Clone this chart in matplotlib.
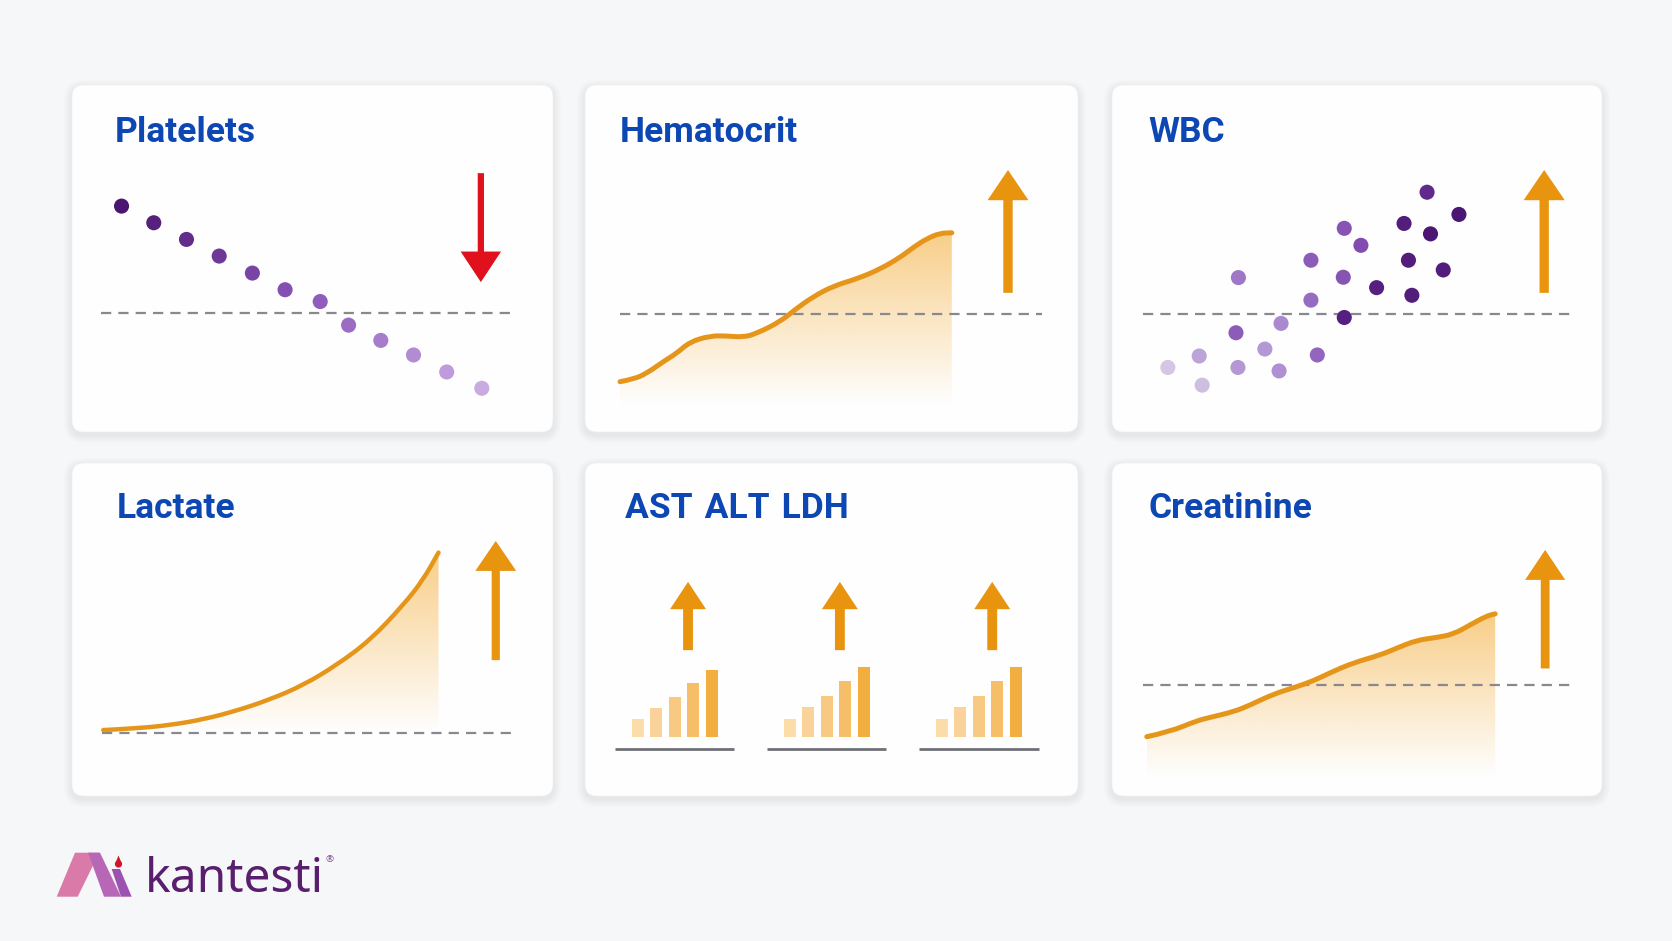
import numpy as np
import matplotlib.pyplot as plt
from matplotlib.patches import FancyBboxPatch, FancyArrow, Polygon, Circle, PathPatch
from matplotlib.path import Path
from matplotlib.colors import LinearSegmentedColormap, to_rgb

W, H = 1672, 941

# ---- data (in card units 0-100) ----
plt_x = [10.3, 17.0, 23.8, 30.6, 37.5, 44.3, 51.6, 57.5, 64.2, 71.0, 77.9, 85.2]
plt_y = [65.1, 60.3, 55.5, 50.7, 45.8, 41.0, 37.6, 30.8, 26.4, 22.2, 17.3, 12.6]
plt_thr = 34.3

hct_x = [7.1, 9.8, 12.5, 15.9, 18.6, 21.3, 25.4, 28.7, 32.1, 34.8, 39.6, 42.9, 46.3,
         50.4, 55.1, 59.8, 63.9, 66.6, 69.3, 72.0, 74.4]
hct_y = [14.5, 15.2, 16.9, 20.3, 22.7, 26.0, 27.7, 27.7, 27.3, 28.4, 31.8, 35.6, 39.0,
         42.1, 44.1, 46.9, 50.3, 53.2, 55.7, 57.3, 57.4]
hct_thr = 34.1

wbc_x = [11.4, 18.4, 17.8, 25.7, 25.3, 31.2, 34.5, 34.1, 25.8, 40.6, 41.9, 40.6,
         47.2, 47.4, 50.8, 47.4, 54.0, 61.2, 60.5, 59.6, 65.0, 67.6, 64.3, 70.8]
wbc_y = [18.6, 13.5, 21.9, 18.6, 28.6, 23.9, 31.3, 17.6, 44.5, 38.0, 22.2, 49.5,
         44.6, 58.7, 53.8, 33.0, 41.6, 39.4, 49.5, 60.1, 57.1, 46.7, 69.1, 62.7]
wbc_tone = [0.05, 0.08, 0.18, 0.22, 0.5, 0.22, 0.28, 0.25, 0.35, 0.42, 0.45, 0.5,
            0.55, 0.55, 0.6, 0.92, 0.92, 0.95, 0.95, 0.95, 1.0, 0.95, 0.85, 1.0]
wbc_thr = 34.1

lac_x = [6.5, 13.4, 20.4, 27.3, 34.2, 41.2, 48.1, 55.0, 62.0, 68.9, 73.0, 76.2]
lac_y = [19.8, 20.3, 21.3, 23.0, 25.6, 29.0, 33.3, 39.3, 46.8, 57.4, 64.9, 73.1]
lac_thr = 18.8

enzyme_labels = ["AST", "ALT", "LDH"]
ast_h = [5.2, 8.7, 11.8, 16.0, 20.0]
alt_h = [5.2, 9.0, 12.2, 16.8, 20.8]
ldh_h = [5.2, 9.0, 12.2, 16.7, 20.8]

cre_x = [7.1, 11.8, 17.3, 20.0, 24.8, 28.2, 32.9, 37.7, 41.1, 44.5, 49.2, 54.7,
         58.1, 62.2, 66.3, 69.7, 73.1, 76.5, 78.2]
cre_y = [17.8, 19.3, 22.6, 23.6, 25.3, 27.3, 30.6, 32.8, 34.6, 37.0, 40.0, 42.3,
         44.4, 46.8, 47.6, 48.6, 51.4, 54.1, 54.7]
cre_thr = 33.3

titles = ["Platelets", "Hematocrit", "WBC", "Lactate", "\u2004".join(enzyme_labels), "Creatinine"]

# ---- style ----
BG = '#F6F7F9'
BLUE = '#0D47B3'
ORANGE = '#E5961A'
ARROW_OR = '#E8940F'
RED = '#E0101C'
GRAY = '#88888E'
TITLE_FONT = dict(family=['Roboto', 'DejaVu Sans'], weight='bold', size=25.5, color=BLUE)

cards = [(72, 85, 553, 432), (585, 85, 1078, 432), (1112, 85, 1602, 432),
         (72, 463, 553, 796), (585, 463, 1078, 796), (1112, 463, 1602, 796)]
title_pos = [(115, 142), (620, 142), (1148, 142), (117, 518), (625, 518), (1149, 518)]

fig = plt.figure(figsize=(W / 100, H / 100), dpi=100)
fig.patch.set_facecolor(BG)

bg = fig.add_axes([0, 0, 1, 1])
bg.set_xlim(0, W)
bg.set_ylim(H, 0)
bg.axis('off')
for (l, t, r, b) in cards:
    for k in range(8, 0, -1):
        bg.add_patch(FancyBboxPatch((l - k, t - k + 3), r - l + 2 * k, b - t + 2 * k,
                                    boxstyle=f"round,pad=0,rounding_size={12 + k}",
                                    fc='#1A2540', ec='none', alpha=0.006))
    bg.add_patch(FancyBboxPatch((l, t), r - l, b - t, boxstyle="round,pad=0,rounding_size=12",
                                fc='#FEFEFE', ec='#F0F1F4', lw=0.5))

for (tx, ty), s in zip(title_pos, titles):
    fig.text(tx / W, 1 - ty / H, s, va='baseline', ha='left', **TITLE_FONT)


def card_axes(i):
    l, t, r, b = cards[i]
    ax = fig.add_axes([l / W, 1 - b / H, (r - l) / W, (b - t) / H])
    ax.set_xlim(0, 100)
    ax.set_ylim(0, 100)
    ax.axis('off')
    ax.patch.set_alpha(0)
    return ax


def threshold(ax, y, x0, x1):
    ax.axhline(y, xmin=x0 / 100, xmax=x1 / 100, color=GRAY, lw=1.6,
               ls=(0, (4.6, 3.2)), zorder=2)


def arrow(ax, x, y0, y1, shaft, head_w, head_l, color):
    ax.add_patch(FancyArrow(x, y0, 0, y1 - y0, width=shaft, head_width=head_w,
                            head_length=head_l, length_includes_head=True,
                            fc=color, ec='none', zorder=4))


def curve_path(x, y, bottom=None):
    # quadratic bezier through midpoints, using the read points as controls
    verts = [(x[0], y[0])]
    codes = [Path.MOVETO]
    for i in range(1, len(x) - 1):
        verts += [(x[i], y[i]), ((x[i] + x[i + 1]) / 2, (y[i] + y[i + 1]) / 2)]
        codes += [Path.CURVE3, Path.CURVE3]
    verts.append((x[-1], y[-1]))
    codes.append(Path.LINETO)
    if bottom is not None:
        verts += [(x[-1], bottom), (x[0], bottom), (x[0], y[0])]
        codes += [Path.LINETO, Path.LINETO, Path.CLOSEPOLY]
    return Path(verts, codes)


def area(ax, x, y, bottom, lw=3.6):
    x = np.asarray(x)
    y = np.asarray(y)
    clip = PathPatch(curve_path(x, y, bottom), fc='none', ec='none')
    ax.add_patch(clip)
    grad = np.zeros((256, 1, 4))
    grad[..., :3] = to_rgb('#F5AE3A')
    grad[..., 3] = np.linspace(0.6, 0.0, 256)[:, None]
    im = ax.imshow(grad, extent=(x.min(), x.max(), bottom, y.max()), aspect='auto',
                   origin='upper', zorder=1, interpolation='bilinear')
    im.set_clip_path(clip)
    ax.add_patch(PathPatch(curve_path(x, y), fill=False, ec=ORANGE, lw=lw,
                           capstyle='round', joinstyle='round', zorder=3))
    ax.set_xlim(0, 100)
    ax.set_ylim(0, 100)


purples = LinearSegmentedColormap.from_list('p', ['#DCD3E8', '#A07ACB', '#7A3FA8', '#4C1774'])
platelet_cmap = LinearSegmentedColormap.from_list('pl', ['#4A1570', '#8A55B8', '#C9ABE2'])

# Platelets
ax = card_axes(0)
threshold(ax, plt_thr, 6.0, 91.9)
ax.scatter(plt_x, plt_y, s=118, c=np.linspace(0, 1, len(plt_x)), cmap=platelet_cmap,
           edgecolors='none', zorder=3)
arrow(ax, 85.0, 74.6, 43.2, 1.3, 8.4, 8.8, RED)

# Hematocrit
ax = card_axes(1)
threshold(ax, hct_thr, 7.1, 92.6)
area(ax, hct_x, hct_y, 7.5)
arrow(ax, 85.8, 40.1, 75.5, 1.9, 8.3, 8.7, ARROW_OR)

# WBC
ax = card_axes(2)
threshold(ax, wbc_thr, 6.4, 93.5)
ax.scatter(wbc_x, wbc_y, s=118, c=wbc_tone, cmap=purples, vmin=0, vmax=1,
           edgecolors='none', zorder=3)
arrow(ax, 88.2, 40.1, 75.5, 1.9, 8.4, 8.7, ARROW_OR)

# Lactate
ax = card_axes(3)
threshold(ax, lac_thr, 6.2, 92.5)
area(ax, lac_x, lac_y, 19.0, lw=3.2)
arrow(ax, 88.1, 40.8, 76.6, 1.7, 8.5, 9.0, ARROW_OR)

# AST / ALT / LDH
ax = card_axes(4)
bar_cols = ['#FCDDAA', '#FAD39A', '#F8C981', '#F6BE68', '#F3AE40']
centers = [18.2, 49.0, 79.9]
for c, hts in zip(centers, [ast_h, alt_h, ldh_h]):
    xs = c + 3.75 * (np.arange(len(hts)) - 2)
    ax.bar(xs, hts, width=2.45, bottom=17.8, color=bar_cols, zorder=3)
    ax.plot([c - 12.1, c + 12.1], [14.1, 14.1], color='#707078', lw=2.0,
            solid_capstyle='butt', zorder=3)
    arrow(ax, c + 2.7, 43.8, 64.3, 2.0, 7.3, 8.2, ARROW_OR)

# Creatinine
ax = card_axes(5)
threshold(ax, cre_thr, 6.4, 93.8)
area(ax, cre_x, cre_y, 5.8)
arrow(ax, 88.4, 38.3, 73.9, 1.8, 8.2, 9.0, ARROW_OR)

# ---- logo ----
bg.add_patch(Polygon([(56.7, 896.7), (77.7, 896.7), (99.3, 852.7), (75.0, 852.7)],
                     closed=True, fc='#D97AA8', ec='none'))
bg.add_patch(Polygon([(88.0, 852.7), (100.0, 852.7), (121.0, 896.7), (104.0, 896.7)],
                     closed=True, fc='#B866B6', ec='none'))
bg.add_patch(Polygon([(111.7, 869.0), (120.0, 869.0), (131.7, 896.7), (121.0, 896.7)],
                     closed=True, fc='#9C52B0', ec='none'))
bg.add_patch(Circle((118.5, 864.0), 3.6, fc='#D0162C', ec='none'))
bg.add_patch(Polygon([(118.5, 855.5), (115.6, 862.5), (121.4, 862.5)],
                     closed=True, fc='#D0162C', ec='none'))
fig.text(145 / W, 1 - 891.7 / H, "kantesti", family=['Noto Sans', 'DejaVu Sans'],
         size=34.5, color='#5A1E6E', va='baseline', ha='left')
fig.text(325 / W, 1 - 862 / H, "®", family=['Noto Sans', 'DejaVu Sans'],
         size=7, color='#7A4A8A', va='baseline', ha='left')

fig.savefig("out.png", dpi=100, facecolor=BG)
